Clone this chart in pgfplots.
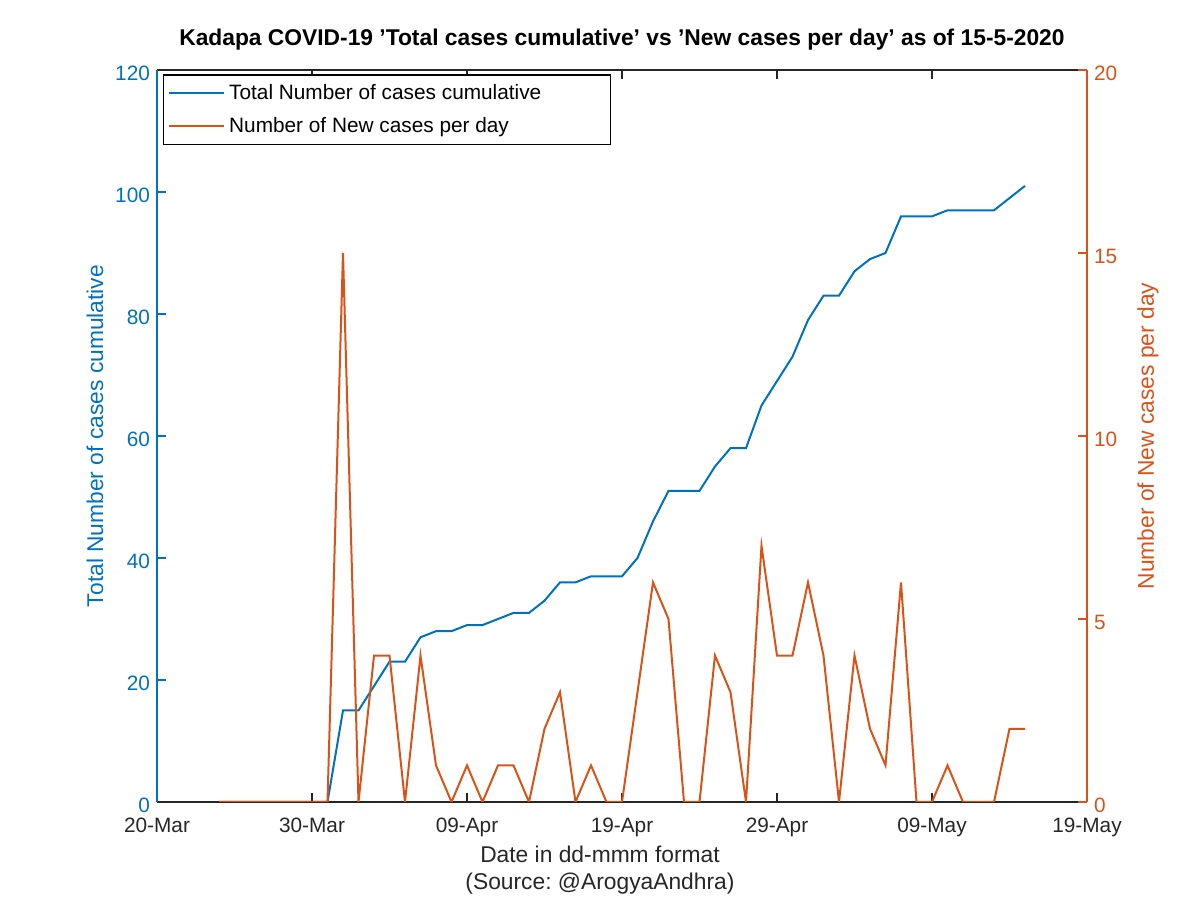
\documentclass[border=0pt]{standalone}
\usepackage{pgfplots}
\pgfplotsset{compat=1.18}
\usepackage{pgfplotstable}
\usepackage{fontspec}
\setmainfont{Liberation Sans}
\definecolor{mblue}{RGB}{0,114,189}
\definecolor{morange}{RGB}{217,83,25}
\definecolor{mgray}{RGB}{38,38,38}

\pgfplotstableread{
day total new
4 0 0
5 0 0
6 0 0
7 0 0
8 0 0
9 0 0
10 0 0
11 0 0
12 15 15
13 15 0
14 19 4
15 23 4
16 23 0
17 27 4
18 28 1
19 28 0
20 29 1
21 29 0
22 30 1
23 31 1
24 31 0
25 33 2
26 36 3
27 36 0
28 37 1
29 37 0
30 37 0
31 40 3
32 46 6
33 51 5
34 51 0
35 51 0
36 55 4
37 58 3
38 58 0
39 65 7
40 69 4
41 73 4
42 79 6
43 83 4
44 83 0
45 87 4
46 89 2
47 90 1
48 96 6
49 96 0
50 96 0
51 97 1
52 97 0
53 97 0
54 97 0
55 99 2
56 101 2
}\data

\pgfplotsset{
  common/.style={
    at={(78.5pt,48pt)}, anchor=south west,
    scale only axis, width=465pt, height=366pt,
    xmin=0, xmax=60,
    tick align=inside, major tick length=4.5pt,
    /pgf/number format/assume math mode=true,
    tick label style={font=\fontsize{10.4}{12}\selectfont},
  }
}

\begin{document}
\frenchspacing
\begin{tikzpicture}
\useasboundingbox (0,0) rectangle (600pt,449pt);
\begin{axis}[
  common,
  ymin=0, ymax=120,
  axis y line*=left,
  xtick={0,10,...,60},
  xticklabels={20-Mar,30-Mar,09-Apr,19-Apr,29-Apr,09-May,19-May},
  xtick pos=both,
  ytick={0,20,...,120},
  x axis line style={draw=mgray, line width=0.6pt},
  y axis line style={draw=mblue, line width=0.6pt},
  xtick style={draw=mgray, line width=0.6pt},
  ytick style={draw=mblue, line width=0.6pt},
  yticklabel style={text=mblue, yshift=-1.5pt},
  xticklabel style={text=mgray, yshift=-4.5pt},
  every axis y label/.style={at={(axis description cs:0,0.5)}, xshift=-31pt, rotate=90, anchor=center, text=mblue, font=\fontsize{11.4}{13}\selectfont},
  ylabel={Total Number of cases cumulative},
  every axis x label/.style={at={(axis description cs:0.5,0)}, xshift=-11pt, yshift=-34pt, anchor=center, align=center, text=mgray, font=\fontsize{11.4}{13.5}\selectfont},
  xlabel={Date in dd-mmm format\\(Source: @ArogyaAndhra)},
  every axis title/.style={at={(axis description cs:0.5,1)}, yshift=15pt, anchor=center, font=\bfseries\fontsize{11.4}{13}\selectfont},
  title={Kadapa COVID-19 'Total cases cumulative' vs 'New cases per day' as of 15-5-2020},
  legend style={at={(axis description cs:0.006,0.994)}, anchor=north west, draw=black, line width=0.6pt, font=\fontsize{10.4}{12}\selectfont, row sep=3.5pt, inner sep=2.5pt},
  legend cell align=left,
  legend image code/.code={\draw[#1] (0pt,0pt) -- (27.5pt,0pt);},
]
\addplot[mblue, line width=1pt] table[x=day, y=total] {\data};
\addlegendentry{\makebox[186pt][l]{Total Number of cases cumulative}}
\addlegendimage{morange, line width=1pt}
\addlegendentry{\makebox[186pt][l]{Number of New cases per day}}
\end{axis}
\begin{axis}[
  common,
  ymin=0, ymax=20,
  axis x line=none,
  axis y line*=right,
  ytick={0,5,...,20},
  y axis line style={draw=morange, line width=0.6pt},
  ytick style={draw=morange, line width=0.6pt},
  yticklabel style={text=morange, yshift=-1.5pt},
  every axis y label/.style={at={(axis description cs:1,0.5)}, xshift=30.5pt, rotate=90, anchor=center, text=morange, font=\fontsize{11.4}{13}\selectfont},
  ylabel={Number of New cases per day},
]
\addplot[morange, line width=1pt] table[x=day, y=new] {\data};
\end{axis}
\end{tikzpicture}
\end{document}
